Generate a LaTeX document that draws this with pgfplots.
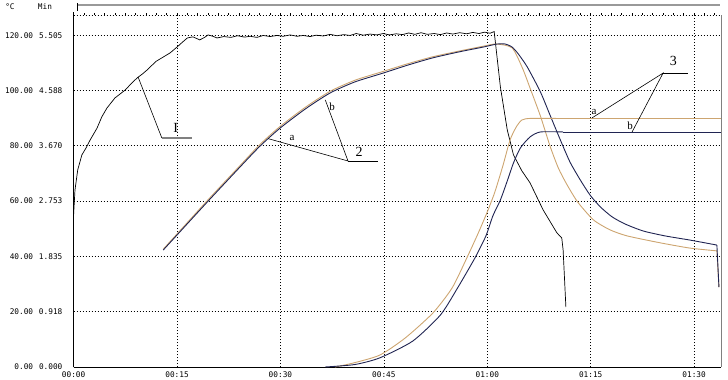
\documentclass[border=0pt]{standalone}
\usepackage{pgfplots}
\pgfplotsset{compat=1.18}
\usepackage{fontspec}
\setmainfont{Liberation Serif}
\newfontfamily\monofont{DejaVu Sans Mono}
\definecolor{tanc}{RGB}{205,165,112}
\definecolor{navy}{RGB}{32,36,82}
\begin{document}
\begin{tikzpicture}[x=1bp,y=1bp]
\path[use as bounding box] (-73.6,-12) rectangle (654.4,367);
\begin{axis}[
  at={(0,0)}, anchor=south west,
  scale only axis, width=647.4bp, height=352bp,
  xmin=0, xmax=93.9, ymin=0, ymax=127.3,
  axis x line*=bottom, axis y line*=left,
  axis line style={black, line width=0.8bp, -},
  xtick={0,15,30,45,60,75,90},
  xticklabels={00:00,00:15,00:30,00:45,01:00,01:15,01:30},
  ytick={0,20,40,60,80,100,120},
  yticklabels={
    {\makebox[3.6em][r]{0.00}\hspace{0.75em}0.000},
    {\makebox[3.6em][r]{20.00}\hspace{0.75em}0.918},
    {\makebox[3.6em][r]{40.00}\hspace{0.75em}1.835},
    {\makebox[3.6em][r]{60.00}\hspace{0.75em}2.753},
    {\makebox[3.6em][r]{80.00}\hspace{0.75em}3.670},
    {\makebox[3.6em][r]{100.00}\hspace{0.75em}4.588},
    {\makebox[3.6em][r]{120.00}\hspace{0.75em}5.505}},
  major tick length=0pt,
  xticklabel style={font=\monofont\fontsize{7.8}{8}\selectfont, anchor=north, inner sep=0pt, yshift=-5bp},
  yticklabel style={font=\monofont\fontsize{7.8}{8}\selectfont, anchor=east, inner sep=0pt, xshift=-11bp},
  grid=major,
  grid style={black, dash pattern=on 1.3bp off 1.7bp, line width=0.7bp},
  clip=false,
]
% curve 1
\addplot[black, line width=0.7bp] coordinates {
(0,55) (0.2,64) (0.6,71.3) (1.2,76.7) (1.8,79.2) (2.4,82.1) (3.4,86.4) (4.1,90.5) (4.85,93.7) (6.0,97.3) (7.5,100.2) (8.4,102.6) (9.2,104.5) (10.0,106.0) (10.65,107.4) (11.1,108.5) (12.0,110.6) (13.0,112.1) (14.0,113.6) (15.0,115.7) (15.8,117.5) (16.5,119.0) (17.3,119.4) (18.3,118.3) (19.0,119.2) (19.5,120.1) (20.2,119.6) (20.8,119.0) (21.8,119.5) (22.8,119.2) (23.8,119.8) (24.8,119.3) (25.6,119.6) (26.6,119.2) (27.5,119.9) (28.5,119.5) (29.5,119.9) (30.4,119.6) (31.4,120.1) (32.4,119.6) (33.3,119.9) (34.3,119.5) (35.2,120.0) (36.2,119.7) (37.2,120.3) (38.2,119.8) (39.2,120.2) (40.1,119.9) (41.0,120.6) (42.0,120.0) (43.0,120.4) (44.0,120.1) (44.9,120.6) (45.8,120.1) (46.8,120.5) (47.7,120.2) (48.6,120.8) (49.5,120.3) (50.4,120.9) (51.3,120.3) (52.3,120.6) (53.2,120.2) (54.1,120.8) (55.0,120.4) (56.0,120.9) (57.0,120.5) (57.9,121.0) (58.8,120.6) (59.6,121.1) (60.4,120.7) (61.0,121.3) (61.9,101.3) (62.9,85.7) (63.8,76.7) (65.0,71.0) (66.2,66.6) (68.1,56.8) (70.1,48.5) (70.8,46.7) (71.0,42.3) (71.4,21.7)
};
% curve 2a (tan)
\addplot[tanc, line width=0.9bp, smooth, tension=0.4] coordinates {
(13.0,42.6) (19.4,60.2) (24.2,73.0) (27.0,80.4) (29.9,86.9) (33.6,93.9) (37.2,99.7) (40.8,103.7) (44.9,106.9) (48.5,109.7) (52.1,112.2) (55.8,114.2) (59.4,116.0) (61.3,116.8) (63.6,115.4) (65.1,108.1) (66.2,100.9) (67.7,90.8) (69.1,79.9) (70.3,72.0) (71.5,66.2) (73.1,59.7) (75.4,53.2) (77.8,49.6) (80.3,47.4) (85.1,44.9) (89.4,43.0) (93.3,42.0)
};
\addplot[tanc, line width=0.9bp] coordinates {(93.3,42.0) (93.6,28.9)};
% curve 2b (navy)
\addplot[navy, line width=0.9bp, smooth, tension=0.4] coordinates {
(13.0,42.3) (19.4,59.7) (24.2,72.5) (27.0,79.8) (29.9,86.3) (33.6,93.3) (37.2,99.1) (40.8,103.1) (44.9,106.3) (48.5,109.2) (52.1,111.8) (55.8,113.9) (59.4,115.7) (61.4,116.8) (62.6,116.8) (63.6,115.7) (64.5,113.2) (65.8,108.5) (67.7,99.5) (69.1,91.1) (70.6,82.1) (72.0,74.1) (73.5,67.6) (74.9,62.2) (76.4,57.9) (78.1,54.3) (80.0,51.7) (82.6,49.2) (85.8,47.4) (89.4,45.9) (93.3,44.1)
};
\addplot[navy, line width=0.9bp] coordinates {(93.3,44.1) (93.6,28.9)};
% curve 3a (tan)
\addplot[tanc, line width=0.9bp, smooth, tension=0.4] coordinates {
(37.9,0) (40.5,1.4) (44.4,4.3) (48.1,10.5) (52.1,19.5) (54.9,28.6) (57.1,39.8) (58.7,48.5) (60.0,56.1) (61.1,63.3) (62.3,73.1) (63.3,82.1) (64.2,86.8) (65.0,89.3) (66.2,89.9) (70.0,89.9)
};
\addplot[tanc, line width=0.9bp] coordinates {(70.0,89.9) (93.9,89.9)};
% curve 3b (navy)
\addplot[navy, line width=0.9bp, smooth, tension=0.4] coordinates {
(36.5,0) (40.8,0.9) (44.4,3.3) (49.2,9.4) (53.2,18.8) (55.6,28.2) (58.2,39.4) (59.8,47.4) (60.8,54.6) (61.9,60.4) (62.9,67.3) (63.8,73.8) (64.8,79.2) (66.2,83.2) (67.7,85.0) (71.0,85.0)
};
\addplot[navy, line width=0.9bp] coordinates {(71.0,85.0) (93.9,85.0)};
% annotations
\draw[black, line width=0.6bp] (axis cs:9.35,104.9) -- (axis cs:12.8,82.8);
\draw[gray, line width=1.2bp] (axis cs:12.8,82.8) -- (axis cs:17.2,82.8);
\node[font=\fontsize{14}{14}\selectfont, inner sep=0pt] at (axis cs:14.8,86.5) {I};
\draw[black, line width=0.6bp] (axis cs:28.2,82.6) -- (axis cs:39.8,74.5) -- (axis cs:36.5,96.6);
\draw[black, line width=0.8bp] (axis cs:39.8,74.3) -- (axis cs:44.1,74.3);
\node[font=\fontsize{11}{11}\selectfont, inner sep=0pt] at (axis cs:31.7,82.8) {a};
\node[font=\fontsize{11}{11}\selectfont, inner sep=0pt] at (axis cs:37.5,94.0) {b};
\node[font=\fontsize{14}{14}\selectfont, inner sep=0pt] at (axis cs:41.4,77.8) {2};
\draw[black, line width=0.6bp] (axis cs:75.2,90.1) -- (axis cs:85.5,106.3) -- (axis cs:81.0,85.0);
\draw[black, line width=0.8bp] (axis cs:85.5,106.3) -- (axis cs:89.1,106.3);
\node[font=\fontsize{14}{14}\selectfont, inner sep=0pt] at (axis cs:87.0,110.5) {3};
\node[font=\fontsize{11}{11}\selectfont, inner sep=0pt] at (axis cs:75.5,92.3) {a};
\node[font=\fontsize{11}{11}\selectfont, inner sep=0pt] at (axis cs:80.7,87.2) {b};
\end{axis}
% frame decorations
\draw[black, dash pattern=on 1.3bp off 1.7bp, line width=0.7bp] (0,352) -- (647.4,352);
\foreach \i in {0,...,62} { \draw[black, line width=0.5bp] (\i*10.34,352) -- ++(0,2.2); }
\draw[black, line width=0.8bp] (0,352) -- (0,355);
\draw[gray, line width=1bp] (647.4,0) -- (647.4,352);
\draw[gray!80, line width=1.6bp] (3.4,362) -- (646.4,362);
\draw[black, line width=0.6bp] (3.4,356) -- (3.4,364);
\node[font=\monofont\fontsize{7.8}{8}\selectfont, inner sep=0pt] at (-63.6,360) {°C};
\node[font=\monofont\fontsize{7.8}{8}\selectfont, inner sep=0pt] at (-28.6,360) {Min};
\end{tikzpicture}
\end{document}
